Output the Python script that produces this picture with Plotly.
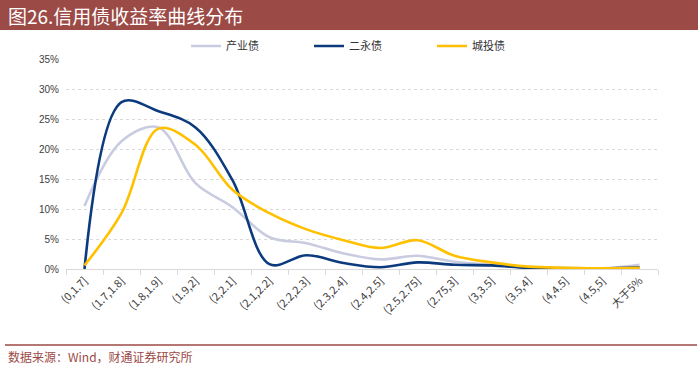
import plotly.graph_objects as go

categories = ["(0,1.7]", "(1.7,1.8]", "(1.8,1.9]", "(1.9,2]", "(2,2.1]", "(2.1,2.2]",
              "(2.2,2.3]", "(2.3,2.4]", "(2.4,2.5]", "(2.5,2.75]", "(2.75,3]", "(3,3.5]",
              "(3.5,4]", "(4,4.5]", "(4.5,5]", "大于5%"]
chanye = [10.5, 21.3, 23.6, 14.3, 10.3, 5.3, 4.3, 2.6, 1.6, 2.2, 1.2, 0.7, 0.3, 0.2, 0.1, 0.7]
eryong = [0.0, 27.8, 26.3, 23.6, 14.8, 0.8, 2.3, 1.0, 0.3, 1.1, 0.7, 0.6, 0.2, 0.1, 0.1, 0.3]
chengtou = [0.6, 9.3, 23.4, 20.7, 13.2, 9.3, 6.6, 4.8, 3.5, 4.8, 2.2, 1.1, 0.4, 0.2, 0.1, 0.2]
series_names = ["产业债", "二永债", "城投债"]
colors = ["#C9CCE1", "#0C3B7D", "#FFC000"]

W, H = 700, 370
L, R, T, B = 66, 42, 59, 101
pw, ph = W - L - R, H - T - B

def px(x):
    return (x - L) / pw

def py(y):
    return (H - B - y) / ph

fig = go.Figure()
for name, vals, c in zip(series_names, [chanye, eryong, chengtou], colors):
    fig.add_trace(go.Scatter(x=categories, y=vals, name=name, mode="lines",
                             line=dict(color=c, width=2.6, shape="spline", smoothing=1.0)))

fig.update_layout(
    width=W, height=H, margin=dict(l=L, r=R, t=T, b=B, autoexpand=False),
    paper_bgcolor="white", plot_bgcolor="white",
    font=dict(family="Noto Sans CJK SC, Liberation Sans", size=10, color="#404040"),
    legend=dict(orientation="h", x=px(186), xanchor="left", y=py(46), yanchor="middle",
                font=dict(size=11, color="#333333"), itemwidth=30, tracegroupgap=0,
                bgcolor="rgba(0,0,0,0)", entrywidth=78),
    showlegend=True,
    xaxis=dict(type="category", showgrid=False, showline=True, linecolor="#D9D9D9", linewidth=1,
               ticks="outside", tickson="boundaries", tickcolor="#D9D9D9", ticklen=5,
               tickangle=-45, automargin=False,
               tickfont=dict(size=11, color="#404040", family="Noto Sans CJK SC"),
               range=[-0.5, len(categories) - 0.5]),
    yaxis=dict(range=[0, 35], dtick=5, ticksuffix="%", showgrid=True, gridcolor="#D9D9D9",
               griddash="dot", gridwidth=1, zeroline=False, showline=False, automargin=False,
               tickfont=dict(size=10, color="#404040", family="Liberation Sans Narrow, Liberation Sans"),
               ticks="", ticklabelstandoff=6),
    shapes=[
        dict(type="rect", xref="paper", yref="paper", x0=px(0), x1=px(698), y0=py(30), y1=py(0),
             fillcolor="#9B4A46", line=dict(width=0), layer="below"),
        dict(type="line", xref="paper", yref="paper", x0=px(5), x1=px(697), y0=py(345), y1=py(345),
             line=dict(color="#9B4A46", width=1.5)),
    ],
    annotations=[
        dict(text="图26.信用债收益率曲线分布", xref="paper", yref="paper", x=px(6), y=py(15),
             xanchor="left", yanchor="middle", showarrow=False,
             font=dict(size=19, color="white", family="Noto Sans CJK SC")),
        dict(text="数据来源：Wind，财通证券研究所", xref="paper", yref="paper", x=px(6), y=py(356),
             xanchor="left", yanchor="middle", showarrow=False,
             font=dict(size=12, color="#9B4A46", family="Noto Sans CJK SC")),
    ],
)

fig.write_html("out.html", config={"displayModeBar": False},
               post_script="document.body.style.margin='0';")
